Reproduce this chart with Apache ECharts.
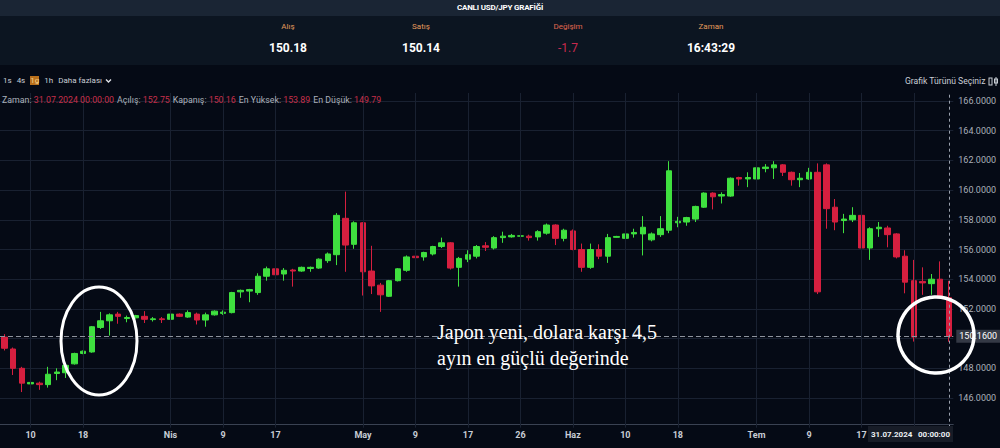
<!DOCTYPE html>
<html><head><meta charset="utf-8">
<script src="https://cdn.jsdelivr.net/npm/echarts@6/dist/echarts.min.js"></script>
<style>
html,body{margin:0;padding:0;width:1000px;height:448px;overflow:hidden;background:#050a15;font-family:Roboto,"Open Sans",sans-serif;}
#hdr{position:absolute;left:0;top:0;width:1000px;height:65px;background:#0c1521;z-index:2}
#band{position:absolute;left:0;top:0;width:1000px;height:16px;background:#1a2534;color:#fff;font-weight:bold;font-size:8px;text-align:center;line-height:16px;letter-spacing:-0.2px}
.lab{position:absolute;top:22px;font-size:8px;color:#e39a5c;transform:translateX(-50%);white-space:nowrap}
.val{position:absolute;top:41px;font-size:12px;font-weight:bold;color:#fff;transform:translateX(-50%);white-space:nowrap}
#chart{position:absolute;left:0;top:0;width:1000px;height:448px;z-index:1}
#tb{position:absolute;left:3px;top:76px;font-size:8px;color:#c9ced6;z-index:3;white-space:nowrap}
#tb span{margin-right:5px}
#tb .on{background:#b9701c;color:#f6d38c;padding:0}
#gt{position:absolute;left:905px;top:76px;font-size:8.6px;color:#c9ced6;z-index:3;white-space:nowrap}
#info{position:absolute;left:2px;top:95px;font-size:8.8px;color:#aab0ba;z-index:3;white-space:nowrap}
#info b{font-weight:normal;color:#c62f4a;margin-right:3px}
</style></head>
<body>
<div id="hdr">
  <div id="band">CANLI USD/JPY GRAFİĞİ</div>
  <div class="lab" style="left:288px">Alış</div>
  <div class="lab" style="left:421px">Satış</div>
  <div class="lab" style="left:568px;color:#e0674f">Değişim</div>
  <div class="lab" style="left:711px">Zaman</div>
  <div class="val" style="left:288px">150.18</div>
  <div class="val" style="left:421px">150.14</div>
  <div class="val" style="left:568px;color:#c92a4e;font-weight:normal">-1.7</div>
  <div class="val" style="left:711px">16:43:29</div>
</div>
<div id="tb"><span>1s</span><span>4s</span><span class="on">1g</span><span>1h</span><span>Daha fazlası</span><svg width="7" height="6" style="vertical-align:middle;margin-left:-2px"><polyline points="1,1.5 3.5,4 6,1.5" fill="none" stroke="#e0e3e8" stroke-width="1.4"/></svg></div>
<div id="gt">Grafik Türünü Seçiniz <svg width="12" height="9" style="vertical-align:middle"><rect x="1" y="1" width="3" height="7" fill="none" stroke="#c9ced6"/><line x1="8" y1="0" x2="8" y2="9" stroke="#c9ced6"/><rect x="6.5" y="2" width="3" height="4" fill="none" stroke="#c9ced6"/></svg></div>
<div id="info">Zaman: <b>31.07.2024 00:00:00</b>Açılış: <b>152.75</b>Kapanış: <b>150.16</b>En Yüksek: <b>153.89</b>En Düşük: <b>149.79</b></div>
<div id="chart"></div>
<script>
const opens  = [150.1,149.3,148.0,146.95,147.0,146.9,147.65,147.7,148.3,149.0,149.1,150.75,151.2,151.65,151.35,151.4,151.5,151.28,151.33,151.3,151.65,151.45,151.65,151.25,151.6,151.7,151.75,153.15,153.2,153.1,154.2,154.7,154.35,154.62,154.55,154.72,154.75,155.25,155.65,158.1,156.35,157.8,154.55,153.6,152.85,153.9,154.6,155.55,155.5,155.7,156.2,156.45,154.8,155.35,155.55,156.25,156.1,156.8,156.85,156.9,156.9,156.85,157.1,157.65,156.75,157.25,156.0,154.8,156.0,155.55,156.82,156.75,157.05,157.05,156.65,157.0,157.3,157.8,157.85,158.05,158.85,159.8,159.6,159.6,160.85,160.75,160.75,161.45,161.5,161.7,161.2,160.7,160.75,161.2,161.7,158.85,157.95,158.0,158.3,156.1,157.4,157.45,157.05,155.55,153.9,153.85,153.7,154.0,152.75];
const closes = [149.35,148.0,147.0,147.05,146.9,147.6,147.75,148.2,149.0,149.15,150.8,151.2,151.6,151.5,151.42,151.55,151.3,151.33,151.28,151.65,151.5,151.75,151.25,151.6,151.85,151.78,153.1,153.25,153.3,154.2,154.7,154.3,154.6,154.55,154.8,154.8,155.35,155.7,158.3,156.3,157.8,154.5,153.55,152.95,153.9,154.7,155.5,155.45,155.8,156.2,156.45,154.75,155.4,155.65,156.2,156.15,156.8,156.9,156.95,156.92,156.8,157.2,157.65,156.75,157.3,156.0,154.8,156.0,155.55,156.8,156.88,157.05,157.15,157.5,157.05,157.4,161.3,157.9,158.15,158.9,159.8,159.55,159.7,160.8,160.75,160.85,161.5,161.55,161.7,161.2,160.7,160.8,161.2,153.15,158.75,157.85,158.05,158.3,156.1,157.4,157.5,157.0,155.5,153.8,150.1,153.75,154.0,152.85,150.16];
const lows   = [149.2,147.55,146.4,146.9,146.55,146.7,147.2,147.35,148.25,148.95,149.05,150.65,150.2,151.0,151.1,151.35,151.05,151.15,151.05,151.25,151.45,151.4,150.95,150.8,151.55,151.6,151.7,152.75,152.45,152.95,153.9,154.2,153.9,153.5,154.5,154.5,154.7,155.1,154.95,154.5,156.05,152.9,153.0,151.8,152.8,153.85,154.5,155.3,155.25,155.6,156.1,154.65,153.5,155.15,155.4,155.9,156.0,156.45,156.8,156.85,156.6,156.6,157.0,156.3,156.55,155.95,154.5,154.7,155.35,155.1,156.8,156.65,156.8,155.6,156.55,156.85,157.1,157.5,157.6,157.85,158.8,158.7,159.1,159.55,160.3,160.2,160.7,161.2,160.75,160.95,160.3,160.2,160.7,153.0,157.4,157.3,157.1,157.85,156.0,155.3,156.85,156.15,155.4,153.05,149.8,152.95,152.95,152.8,149.79];
const highs  = [150.3,149.4,148.1,147.1,147.1,148.1,148.0,148.35,149.05,149.2,150.85,151.8,151.7,151.8,151.55,151.6,151.85,151.45,151.45,151.7,151.7,151.9,151.75,151.75,151.9,151.9,153.15,153.3,153.35,154.4,154.85,154.75,154.75,154.7,154.85,154.85,155.4,155.8,158.45,159.9,157.9,157.85,156.25,153.75,153.95,154.75,155.6,155.9,155.85,156.25,156.8,156.5,155.5,155.95,156.3,156.5,156.9,157.2,157.05,156.95,157.0,157.3,157.75,157.7,157.4,157.35,156.4,156.4,156.35,157.05,156.92,157.3,157.4,158.25,157.15,158.25,161.95,158.2,158.2,158.95,159.85,159.85,159.85,160.85,160.9,161.2,161.75,161.75,161.95,161.75,161.25,161.15,161.5,161.8,161.8,159.4,158.4,158.85,158.4,157.5,157.85,157.6,157.1,155.95,155.3,154.8,154.35,155.2,153.89];
const tickIndex = [3,9,19,25,31,41,47,53,59,65,71,77,86,92,98];
const tickText  = ['10','18','Nis','9','17','May','9','17','26','Haz','10','18','Tem','9','17'];
const hiddenGridIndex = [104];
const lastPrice = 150.16;
const lastPriceText = '150.1600';
const crossDate = '31.07.2024';
const crossTime = '00:00:00';

const categories = opens.map((_, i) => String(i));
const candles = opens.map((o, i) => [o, closes[i], lows[i], highs[i]]);
const lastIndex = String(opens.length - 1);

const chart = echarts.init(document.getElementById('chart'), null, {renderer: 'svg'});
const gridColor = '#192131';
chart.setOption({
  animation: false,
  backgroundColor: 'transparent',
  grid: {left: -5.9, right: 46.7, top: 93, bottom: 20.3},
  xAxis: {
    type: 'category', data: categories, boundaryGap: true, offset: -3,
    axisLine: {lineStyle: {color: '#3a4252'}},
    axisTick: {show: false},
    splitLine: {show: false},
    axisLabel: {
      interval: (i) => tickIndex.includes(i),
      formatter: (v) => { const k = tickIndex.indexOf(Number(v)); return k >= 0 ? tickText[k] : ''; },
      color: '#c9ced6', fontSize: 9, fontWeight: 'bold', margin: 6, fontFamily: 'Roboto'
    }
  },
  yAxis: {
    type: 'value', position: 'right', min: 144, max: 166.54, interval: 2,
    axisLine: {show: false}, axisTick: {show: false},
    splitLine: {show: true, showMinLine: false, showMaxLine: false, lineStyle: {color: gridColor}},
    axisLabel: {
      color: '#aab0ba', fontSize: 9, margin: 5, fontFamily: 'Roboto',
      formatter: (v) => (v % 2 === 0 && v >= 146 && v <= 166 && v !== 150) ? v.toFixed(4) : ''
    }
  },
  series: [
    {
      type: 'line', data: [], z: 1, silent: true,
      markLine: {
        silent: true, symbol: ['none', 'none'], animation: false,
        label: {show: false},
        lineStyle: {color: gridColor, type: 'solid', width: 1},
        data: tickIndex.concat(hiddenGridIndex).map(i => ({xAxis: String(i)}))
      }
    },
    {
      type: 'candlestick', data: candles, z: 2, barWidth: 6,
      itemStyle: {color: '#3fe03f', color0: '#d61f3f', borderColor: '#3fe03f', borderColor0: '#d61f3f', borderWidth: 1},
      markLine: {
        silent: true, symbol: ['none', 'none'], animation: false,
        data: [
          {yAxis: lastPrice, lineStyle: {color: '#8e939d', type: [5, 3], width: 1},
           label: {show: true, position: 'end', formatter: lastPriceText, color: '#ffffff', backgroundColor: '#343945', fontSize: 9, padding: [2, 3], distance: 3, fontFamily: 'Roboto'}},
          {xAxis: lastIndex, lineStyle: {color: '#9aa1ad', type: [3, 3], width: 1}, label: {show: false}}
        ]
      }
    }
  ],
  graphic: [
    {type: 'rect', z: 90, shape: {x: 868, y: 426, width: 85, height: 16}, style: {fill: '#171c27'}},
    {type: 'text', z: 91, x: 871, y: 434, style: {text: crossDate, fill: '#eceff3', font: 'bold 8px Roboto', verticalAlign: 'middle'}},
    {type: 'text', z: 91, x: 918, y: 434, style: {text: crossTime, fill: '#eceff3', font: 'bold 8px Roboto', verticalAlign: 'middle'}},
    {type: 'ellipse', z: 100, shape: {cx: 99, cy: 341, rx: 38, ry: 54}, style: {fill: 'none', stroke: '#ffffff', lineWidth: 3}},
    {type: 'circle', z: 100, shape: {cx: 936, cy: 335, r: 38}, style: {fill: 'none', stroke: '#ffffff', lineWidth: 3.5}},
    {type: 'text', z: 100, x: 437, y: 319, style: {text: 'Japon yeni, dolara karşı 4,5\nayın en güçlü değerinde', fill: '#ffffff', font: '20px "Liberation Serif"', lineHeight: 26}}
  ]
});
</script>
</body></html>
